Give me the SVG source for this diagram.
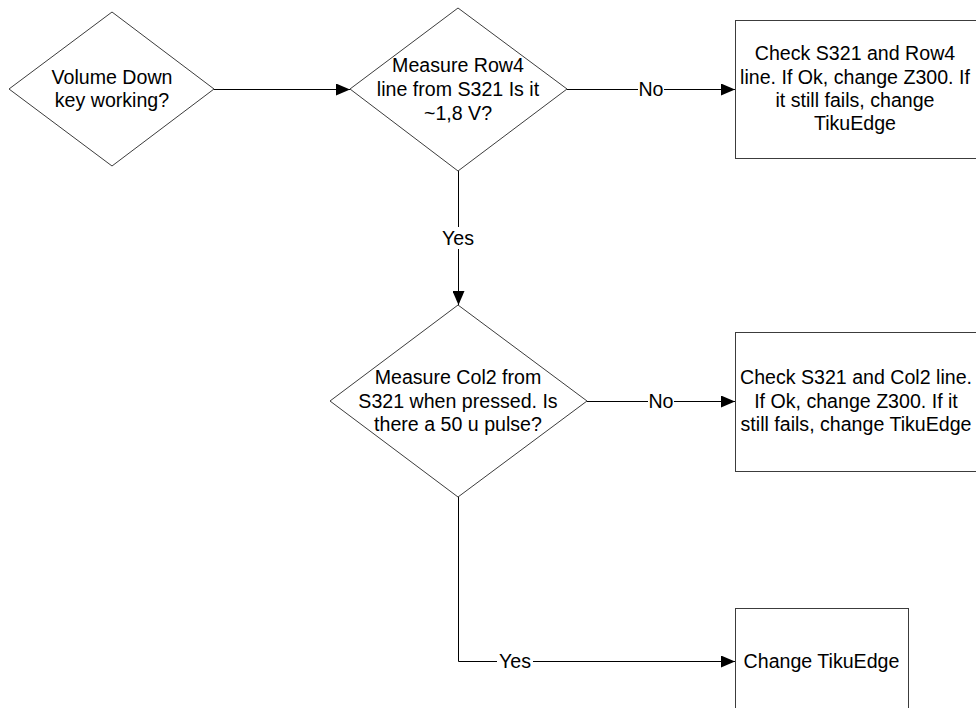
<svg xmlns="http://www.w3.org/2000/svg" width="976" height="708" viewBox="0 0 976 708">
  <style>
    .shape { fill: #ffffff; stroke: #3c3c3c; stroke-width: 1; }
    .edge { fill: none; stroke: #000000; stroke-width: 1; }
    .t { font-family: "Liberation Sans", Arial, sans-serif; font-size: 19.6px; fill: #000000; text-anchor: middle; }
    .lbg { fill: #ffffff; stroke: none; }
  </style>
  <defs>
    <marker id="arrow" markerUnits="userSpaceOnUse" markerWidth="14" markerHeight="12" refX="14" refY="6" orient="auto">
      <path d="M0,0 L14,6 L0,12 Z" fill="#000000"/>
    </marker>
  </defs>
  <rect width="976" height="708" fill="#ffffff"/>

  <!-- connectors -->
  <g id="connectors">
    <path class="edge" d="M214,89.5 H350" marker-end="url(#arrow)"/>
    <path class="edge" d="M567,89.5 H735" marker-end="url(#arrow)"/>
    <path class="edge" d="M458.5,171 V305" marker-end="url(#arrow)"/>
    <path class="edge" d="M587,401.5 H735" marker-end="url(#arrow)"/>
    <path class="edge" d="M458.5,497 V661.5 H735" marker-end="url(#arrow)"/>
    <!-- edge labels -->
    <rect class="lbg" x="638" y="78" width="26" height="22"/>
    <text class="t" x="651" y="96">No</text>
    <rect class="lbg" x="440" y="227" width="36" height="22"/>
    <text class="t" x="458" y="245">Yes</text>
    <rect class="lbg" x="648" y="390" width="26" height="22"/>
    <text class="t" x="661" y="408">No</text>
    <rect class="lbg" x="497" y="650" width="36" height="22"/>
    <text class="t" x="515" y="668">Yes</text>
  </g>

  <g id="start">
    <polygon class="shape" points="112,12 214,89 112,166 9,89"/>
    <text class="t" x="112" y="84">Volume Down</text>
    <text class="t" x="112" y="107">key working?</text>
  </g>

  <g id="row4">
    <polygon class="shape" points="458,8 567,89 458,171 350,89"/>
    <text class="t" x="458" y="72">Measure Row4</text>
    <text class="t" x="458" y="96">line from S321 Is it</text>
    <text class="t" x="458" y="120">~1,8 V?</text>
  </g>

  <g id="row4-fail">
    <rect class="shape" x="735.5" y="20.5" width="244" height="138"/>
    <text class="t" x="855" y="60">Check S321 and Row4</text>
    <text class="t" x="855" y="84">line. If Ok, change Z300. If</text>
    <text class="t" x="855" y="107">it still fails, change</text>
    <text class="t" x="855" y="130">TikuEdge</text>
  </g>

  <g id="col2">
    <polygon class="shape" points="458,305 587,401 458,497 330,401"/>
    <text class="t" x="458" y="384">Measure Col2 from</text>
    <text class="t" x="458" y="408">S321 when pressed. Is</text>
    <text class="t" x="458" y="431">there a 50 u pulse?</text>
  </g>

  <g id="col2-fail">
    <rect class="shape" x="735.5" y="332.5" width="244" height="139"/>
    <text class="t" x="856" y="384">Check S321 and Col2 line.</text>
    <text class="t" x="856" y="408">If Ok, change Z300. If it</text>
    <text class="t" x="856" y="431">still fails, change TikuEdge</text>
  </g>

  <g id="change-tikuedge">
    <rect class="shape" x="735.5" y="608.5" width="173" height="120"/>
    <text class="t" x="821.5" y="668">Change TikuEdge</text>
  </g>
</svg>
